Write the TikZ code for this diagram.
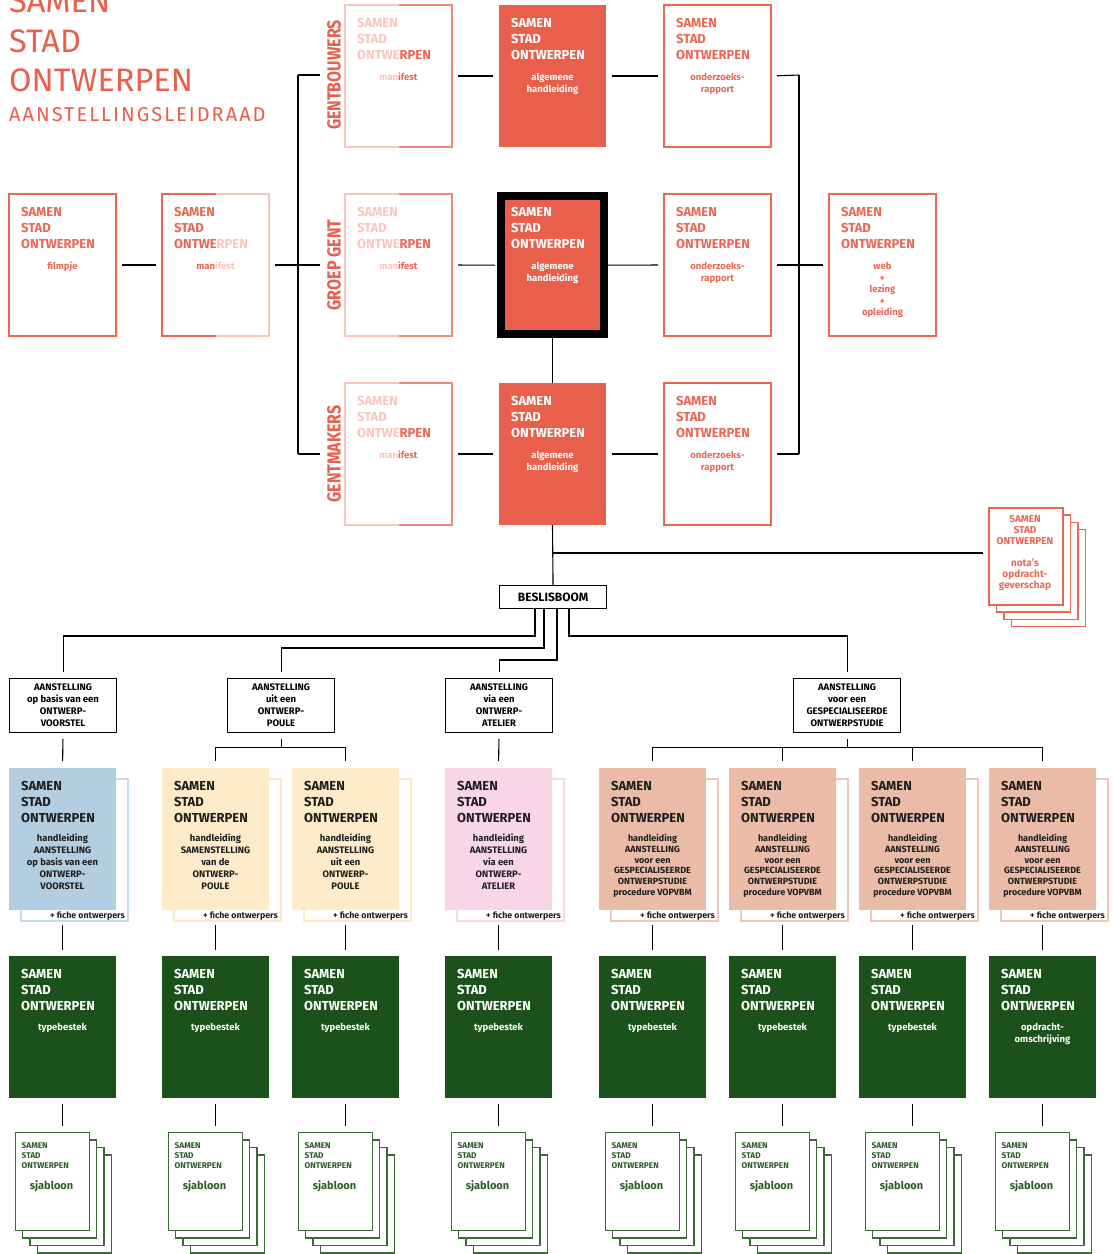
\documentclass[tikz,border=0pt]{standalone}
\usepackage{fontspec}
\setmainfont{Fira Sans}
\usetikzlibrary{calc}
\definecolor{sored}{HTML}{E85F4B}
\definecolor{soline}{HTML}{EA6753}
\definecolor{sopale}{HTML}{F8C6BD}
\definecolor{somid}{HTML}{EE8877}
\definecolor{soblue}{HTML}{B3CEE0}
\definecolor{sobluel}{HTML}{C6DCEA}
\definecolor{socream}{HTML}{FDEBC9}
\definecolor{socreaml}{HTML}{FCE9C6}
\definecolor{sopink}{HTML}{F9D6E6}
\definecolor{sopinkl}{HTML}{F6D8E6}
\definecolor{sosalmon}{HTML}{EABBA7}
\definecolor{sosalmonl}{HTML}{F0C7B6}
\definecolor{sogreen}{HTML}{1B511A}
\definecolor{sjline}{HTML}{3A6A35}
\definecolor{sjtext}{HTML}{2C5C28}
\definecolor{sodark}{HTML}{1E1E1E}

\newcommand{\colsdoc}[6]{% name, x, fill, line, substyle, subtext
  \node[docbox, draw=#4, fill=white] (#1-b) at (#2+12,779) {};
  \node[docbox, fill=#3] (#1) at (#2,768) {};
  \node[ssot, text=sodark] (#1-t) at (#2+12,781) {SAMEN\\STAD\\ONTWERPEN};
  \node[#5] (#1-s) at (#2+53.5,834) {#6};
  \node[fiche] (#1-f) at (#2+116,918) {+ fiche ontwerpers};
}
\newcommand{\grndoc}[3]{% name, x, subtext
  \node[docbox, fill=sogreen] (#1) at (#2,956) {};
  \node[ssot, text=white] (#1-t) at (#2+12,969) {SAMEN\\STAD\\ONTWERPEN};
  \node[subb, text=white] (#1-s) at (#2+53.5,1023) {#3};
}
\newcommand{\sjstack}[2]{% name, centre x
  \foreach \k in {3,2,1} {\node[sjpage] (#1-p\k) at (#2-48+7.4*\k,1132+7.4*\k) {};}
  \node[sjpage] (#1) at (#2-48,1132) {};
  \node[sjcaps] (#1-t) at (#2-41,1142) {SAMEN\\STAD\\ONTWERPEN};
  \node[sjword] (#1-s) at (#2-11,1180) {sjabloon};
}

\begin{document}
\begin{tikzpicture}[x=1pt,y=-1pt,
  docbox/.style={rectangle, minimum width=107pt, minimum height=142pt, inner sep=0pt, outer sep=0pt, line width=1.5pt, anchor=north west},
  ssot/.style={font=\bfseries\fontsize{13}{15.8}\selectfont, align=left, inner sep=0pt, anchor=north west},
  subt/.style={font=\bfseries\fontsize{9.5}{12}\selectfont, align=center, inner sep=0pt, anchor=north},
  subb/.style={subt},
  colsub/.style={font=\bfseries\fontsize{9.4}{12}\selectfont, align=center, inner sep=0pt, anchor=north, text=sodark},
  salsub/.style={font=\bfseries\fontsize{9}{10.8}\selectfont, align=center, inner sep=0pt, anchor=north, text=sodark},
  fiche/.style={font=\bfseries\fontsize{8.8}{10}\selectfont, inner sep=0pt, anchor=base east, text=sodark},
  vlabel/.style={rotate=90, inner sep=0pt, text=sored, font=\bfseries\fontsize{19}{19}\selectfont},
  ttl/.style={anchor=base west, inner sep=0pt, text=sored},
  ansbox/.style={rectangle, draw=black, line width=1.1pt, minimum width=107pt, minimum height=54pt, inner sep=0pt, anchor=north west, align=center, font=\bfseries\fontsize{9.5}{12}\selectfont},
  notapage/.style={rectangle, draw=soline, fill=white, line width=1.5pt, minimum width=74pt, minimum height=97pt, inner sep=0pt, anchor=north west},
  sjpage/.style={rectangle, draw=sjline, fill=white, line width=1.3pt, minimum width=74pt, minimum height=98pt, inner sep=0pt, anchor=north west},
  sjcaps/.style={font=\bfseries\fontsize{8.3}{10}\selectfont, align=left, inner sep=0pt, anchor=north west, text=sjtext},
  sjword/.style={font=\bfseries\fontsize{11}{13}\selectfont, inner sep=0pt, anchor=north, text=sjtext},
  conn/.style={draw=black, line width=1.1pt}
]
\useasboundingbox (0,0) rectangle (1112,1254);

% ---------- title ----------
\node[ttl, font=\fontsize{32.5}{39}\selectfont] (tt1) at (9,12) {SAMEN};
\node[ttl, font=\fontsize{32.5}{39}\selectfont] (tt2) at (9,52) {STAD};
\node[ttl, font=\fontsize{32.5}{39}\selectfont] (tt3) at (9,91) {ONTWERPEN};
\node[ttl, font=\fontsize{20}{24}\selectfont\addfontfeature{LetterSpace=10}] (tt4) at (9,121) {AANSTELLINGSLEIDRAAD};

% ---------- vertical labels ----------
\node[vlabel] (lab1) at (334,75) {\scalebox{0.84}[1]{GENTBOUWERS}};
\node[vlabel] (lab2) at (334,265) {\scalebox{0.84}[1]{GROEP GENT}};
\node[vlabel] (lab3) at (334,454) {\scalebox{0.84}[1]{GENTMAKERS}};

% ---------- row A ----------
\node[docbox] (mA) at (345,5) {};
\draw[line width=1.5pt, sopale] (mA.north) -- (mA.north west) -- (mA.south west) -- (mA.south);
\draw[line width=1.5pt, somid] (mA.north) -- (mA.north east) -- (mA.south east) -- (mA.south);
\node[ssot] (mA-t) at (357,18) {\textcolor{sopale}{SAMEN}\\\textcolor{sopale}{STAD}\\\textcolor{sopale}{ONTWE}\textcolor{soline}{RPEN}};
\node[subb] (mA-s) at (398.5,73) {\textcolor{sopale}{man}\textcolor{soline}{ifest}};

\node[docbox, fill=sored] (rA) at (499,5) {};
\node[ssot, text=white] (rA-t) at (511,18) {SAMEN\\STAD\\ONTWERPEN};
\node[subt, text=white] (rA-s) at (552.5,73) {algemene\\handleiding};

\node[docbox, draw=soline] (oA) at (664,5) {};
\node[ssot, text=soline] (oA-t) at (676,18) {SAMEN\\STAD\\ONTWERPEN};
\node[subt, text=soline] (oA-s) at (717.5,73) {onderzoeks-\\rapport};

% ---------- row B ----------
\node[docbox, draw=soline] (f1) at (9,194) {};
\node[ssot, text=soline] (f1-t) at (21,207) {SAMEN\\STAD\\ONTWERPEN};
\node[subb, text=soline] (f1-s) at (62.5,262) {filmpje};

\node[docbox] (m0) at (162,194) {};
\draw[line width=1.5pt, soline] (m0.north) -- (m0.north west) -- (m0.south west) -- (m0.south);
\draw[line width=1.5pt, sopale] (m0.north) -- (m0.north east) -- (m0.south east) -- (m0.south);
\node[ssot] (m0-t) at (174,207) {\textcolor{soline}{SAMEN}\\\textcolor{soline}{STAD}\\\textcolor{soline}{ONTWE}\textcolor{sopale}{RPEN}};
\node[subb] (m0-s) at (215.5,262) {\textcolor{soline}{man}\textcolor{sopale}{ifest}};

\node[docbox] (mB) at (345,194) {};
\draw[line width=1.5pt, sopale] (mB.north) -- (mB.north west) -- (mB.south west) -- (mB.south);
\draw[line width=1.5pt, somid] (mB.north) -- (mB.north east) -- (mB.south east) -- (mB.south);
\node[ssot] (mB-t) at (357,207) {\textcolor{sopale}{SAMEN}\\\textcolor{sopale}{STAD}\\\textcolor{sopale}{ONTWE}\textcolor{soline}{RPEN}};
\node[subb] (mB-s) at (398.5,262) {\textcolor{sopale}{man}\textcolor{soline}{ifest}};

\node[rectangle, fill=sored, draw=black, line width=8pt, minimum width=103pt, minimum height=138.5pt, inner sep=0pt, outer sep=0pt] (bb) at (552.5,265.2) {};
\node[ssot, text=white] (bb-t) at (511,207) {SAMEN\\STAD\\ONTWERPEN};
\node[subt, text=white] (bb-s) at (552.5,262) {algemene\\handleiding};

\node[docbox, draw=soline] (oB) at (664,194) {};
\node[ssot, text=soline] (oB-t) at (676,207) {SAMEN\\STAD\\ONTWERPEN};
\node[subt, text=soline] (oB-s) at (717.5,262) {onderzoeks-\\rapport};

\node[docbox, draw=soline] (w) at (829,194) {};
\node[ssot, text=soline] (w-t) at (841,207) {SAMEN\\STAD\\ONTWERPEN};
\node[subt, text=soline, font=\bfseries\fontsize{9.5}{11.6}\selectfont] (w-s) at (882.5,262) {web\\+\\lezing\\+\\opleiding};

% ---------- row C ----------
\node[docbox] (mC) at (345,383) {};
\draw[line width=1.5pt, sopale] (mC.north) -- (mC.north west) -- (mC.south west) -- (mC.south);
\draw[line width=1.5pt, somid] (mC.north) -- (mC.north east) -- (mC.south east) -- (mC.south);
\node[ssot] (mC-t) at (357,396) {\textcolor{sopale}{SAMEN}\\\textcolor{sopale}{STAD}\\\textcolor{sopale}{ONTWE}\textcolor{soline}{RPEN}};
\node[subb] (mC-s) at (398.5,451) {\textcolor{sopale}{man}\textcolor{soline}{ifest}};

\node[docbox, fill=sored] (rC) at (499,383) {};
\node[ssot, text=white] (rC-t) at (511,396) {SAMEN\\STAD\\ONTWERPEN};
\node[subt, text=white] (rC-s) at (552.5,451) {algemene\\handleiding};

\node[docbox, draw=soline] (oC) at (664,383) {};
\node[ssot, text=soline] (oC-t) at (676,396) {SAMEN\\STAD\\ONTWERPEN};
\node[subt, text=soline] (oC-s) at (717.5,451) {onderzoeks-\\rapport};

% ---------- top connectors ----------
\coordinate (jt) at (298,75);
\coordinate (jm) at (298,265);
\coordinate (jb) at (298,454);
\coordinate (lt1) at (320,75);
\coordinate (lt2) at (320,265);
\coordinate (lt3) at (320,454);
\draw[conn, shorten <=6pt, shorten >=6pt] (f1.east) -- (m0.west);
\draw[conn, shorten <=6pt] (m0.east) -- (jm);
\draw[conn] (jt) -- (jb);
\draw[conn] (jt) -- (lt1);
\draw[conn] (jm) -- (lt2);
\draw[conn] (jb) -- (lt3);
\draw[conn, shorten <=6pt, shorten >=6pt] (mA.east) -- (rA.west);
\draw[conn, shorten <=6pt, shorten >=6pt] (mB.east) -- (bb.west);
\draw[conn, shorten <=6pt, shorten >=6pt] (mC.east) -- (rC.west);
\draw[conn, shorten <=6pt, shorten >=6pt] (rA.east) -- (oA.west);
\draw[conn, shorten <=3pt, shorten >=6pt] (bb.east) -- (oB.west);
\draw[conn, shorten <=6pt, shorten >=6pt] (rC.east) -- (oC.west);
\coordinate (jr1) at (799,75);
\coordinate (jr3) at (799,454);
\draw[conn, shorten <=6pt] (oA.east) -- (jr1);
\draw[conn, shorten <=6pt] (oC.east) -- (jr3);
\draw[conn] (jr1) -- (jr3);
\draw[conn, shorten <=6pt, shorten >=6pt] (oB.east) -- (w.west);
\draw[conn] (bb.south) -- (rC.north);

% ---------- nota's stack ----------
\foreach \k in {3,2,1} {\node[notapage] (nota-p\k) at (988+7.5*\k,507+7.3*\k) {};}
\node[notapage] (nota) at (988,507) {};
\node[font=\bfseries\fontsize{10}{11}\selectfont, align=center, inner sep=0pt, anchor=north, text=soline] (nota-t) at (1025,515) {SAMEN\\STAD\\ONTWERPEN\\[11pt]nota's\\opdracht-\\geverschap};

% ---------- beslisboom ----------
\node[rectangle, draw=black, line width=1.1pt, minimum width=107pt, minimum height=23pt, inner sep=0pt, anchor=north west, font=\bfseries\fontsize{12}{13}\selectfont] (besl) at (499,585) {BESLISBOOM};
\draw[conn] (rC.south) -- (besl.north);
\coordinate (nj) at (552,553);
\draw[conn, shorten >=5pt] (nj) -- (nota.west |- nj);

% ---------- aanstelling ----------
\node[ansbox] (a1) at (9,678) {AANSTELLING\\op basis van een\\ONTWERP-\\VOORSTEL};
\node[ansbox] (a2) at (227,678) {AANSTELLING\\uit een\\ONTWERP-\\POULE};
\node[ansbox] (a3) at (445,678) {AANSTELLING\\via een\\ONTWERP-\\ATELIER};
\node[ansbox] (a4) at (793,678) {AANSTELLING\\voor een\\GESPECIALISEERDE\\ONTWERPSTUDIE};

\coordinate (bs1) at (535,608);
\coordinate (bs2) at (544,608);
\coordinate (bs3) at (557,608);
\coordinate (bs4) at (569,608);
\draw[conn, shorten >=6pt] (bs1) -- (535,636) -| (a1.north);
\draw[conn, shorten >=6pt] (bs2) -- (544,648) -| (a2.north);
\draw[conn, shorten >=6pt] (bs3) -- (557,660) -| (a3.north);
\draw[conn, shorten >=6pt] (bs4) -- (569,636) -| (a4.north);

% ---------- coloured handleidingen ----------
\colsdoc{c1}{9}{soblue}{sobluel}{colsub}{handleiding\\AANSTELLING\\op basis van een\\ONTWERP-\\VOORSTEL}
\colsdoc{c2}{162}{socream}{socreaml}{colsub}{handleiding\\SAMENSTELLING\\van de\\ONTWERP-\\POULE}
\colsdoc{c3}{292}{socream}{socreaml}{colsub}{handleiding\\AANSTELLING\\uit een\\ONTWERP-\\POULE}
\colsdoc{c4}{445}{sopink}{sopinkl}{colsub}{handleiding\\AANSTELLING\\via een\\ONTWERP-\\ATELIER}
\colsdoc{c5}{599}{sosalmon}{sosalmonl}{salsub}{handleiding\\AANSTELLING\\voor een\\GESPECIALISEERDE\\ONTWERPSTUDIE\\procedure VOPVBM}
\colsdoc{c6}{729}{sosalmon}{sosalmonl}{salsub}{handleiding\\AANSTELLING\\voor een\\GESPECIALISEERDE\\ONTWERPSTUDIE\\procedure VOPVBM}
\colsdoc{c7}{859}{sosalmon}{sosalmonl}{salsub}{handleiding\\AANSTELLING\\voor een\\GESPECIALISEERDE\\ONTWERPSTUDIE\\procedure VOPVBM}
\colsdoc{c8}{989}{sosalmon}{sosalmonl}{salsub}{handleiding\\AANSTELLING\\voor een\\GESPECIALISEERDE\\ONTWERPSTUDIE\\procedure VOPVBM}

\draw[conn, shorten <=6pt, shorten >=7pt] (a1.south) -- (c1.north);
\draw[conn, shorten <=6pt, shorten >=7pt] (a2.south) -- ++(0,14) -| (c2.north);
\draw[conn, shorten >=7pt] ($(a2.south)+(0,14)$) -| (c3.north);
\draw[conn, shorten <=6pt, shorten >=7pt] (a3.south) -- (c4.north);
\draw[conn, shorten <=6pt, shorten >=7pt] (a4.south) -- ++(0,14) -| (c5.north);
\draw[conn, shorten >=7pt] ($(a4.south)+(0,14)$) -| (c6.north);
\draw[conn, shorten >=7pt] ($(a4.south)+(0,14)$) -| (c7.north);
\draw[conn, shorten >=7pt] ($(a4.south)+(0,14)$) -| (c8.north);

% ---------- green typebestekken ----------
\grndoc{g1}{9}{typebestek}
\grndoc{g2}{162}{typebestek}
\grndoc{g3}{292}{typebestek}
\grndoc{g4}{445}{typebestek}
\grndoc{g5}{599}{typebestek}
\grndoc{g6}{729}{typebestek}
\grndoc{g7}{859}{typebestek}
\grndoc{g8}{989}{opdracht-\\omschrijving}

\foreach \i in {1,...,8} {
  \draw[conn, shorten <=4pt, shorten >=6pt] (c\i.south |- c\i-b.south) -- (g\i.north);
}

% ---------- sjablonen ----------
\sjstack{s1}{62.5}
\sjstack{s2}{215.5}
\sjstack{s3}{345.5}
\sjstack{s4}{498.5}
\sjstack{s5}{652.5}
\sjstack{s6}{782.5}
\sjstack{s7}{912.5}
\sjstack{s8}{1042.5}

\foreach \i in {1,...,8} {
  \draw[conn, shorten <=6pt, shorten >=6pt] (g\i.south) -- (g\i.south |- s\i.north);
}
\end{tikzpicture}
\end{document}
